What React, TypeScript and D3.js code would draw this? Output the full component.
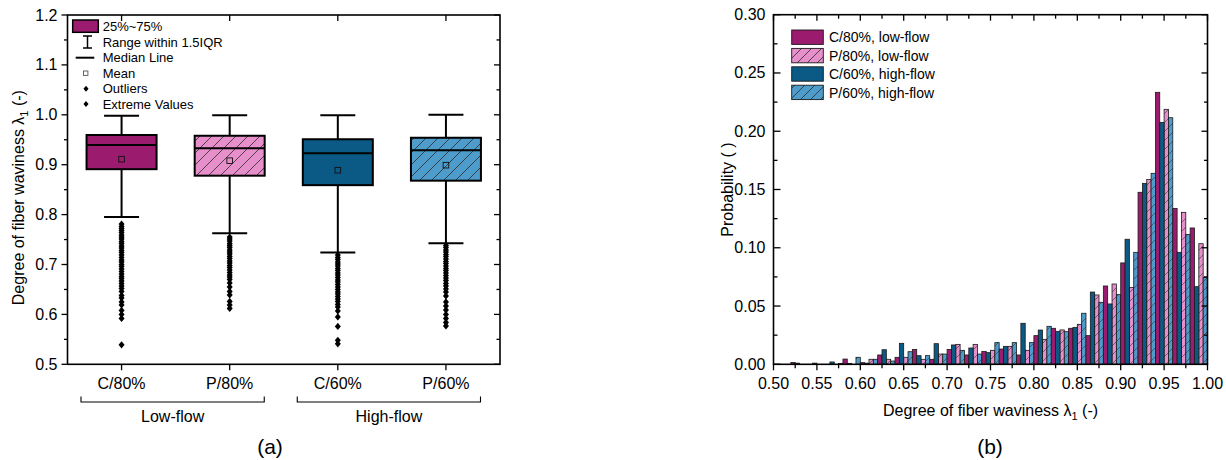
import React from "react";
import * as d3 from "d3";

// ---------- Panel (a): box plot data ----------
const groups = ["C/80%", "P/80%", "C/60%", "P/60%"];
const boxQ1 = [0.891, 0.878, 0.859, 0.868];
const boxMedian = [0.9395, 0.933, 0.923, 0.929];
const boxQ3 = [0.9595, 0.958, 0.951, 0.954];
const whiskerLow = [0.795, 0.7625, 0.724, 0.7425];
const whiskerHigh = [0.998, 0.999, 0.999, 1.0];
const boxMean = [0.911, 0.908, 0.889, 0.899];

const outliersC80 = [
  0.781, 0.776, 0.772, 0.768, 0.764, 0.759, 0.755, 0.751, 0.746, 0.742, 0.737, 0.733,
  0.728, 0.724, 0.719, 0.714, 0.709, 0.705, 0.7, 0.696, 0.691, 0.686, 0.681, 0.676,
  0.672, 0.667, 0.662, 0.657, 0.652, 0.646, 0.638, 0.633, 0.625, 0.619, 0.608, 0.6,
  0.592, 0.539,
];
const outliersP80 = [
  0.755, 0.751, 0.747, 0.742, 0.738, 0.734, 0.729, 0.725, 0.721, 0.716, 0.712, 0.707,
  0.703, 0.698, 0.694, 0.689, 0.684, 0.679, 0.675, 0.67, 0.663, 0.655, 0.646, 0.639,
  0.626, 0.619, 0.612,
];
const outliersC60 = [
  0.719, 0.714, 0.71, 0.705, 0.701, 0.697, 0.692, 0.688, 0.683, 0.679, 0.674, 0.669,
  0.665, 0.66, 0.655, 0.65, 0.645, 0.641, 0.636, 0.631, 0.626, 0.62, 0.615, 0.607,
  0.595, 0.576, 0.548, 0.541,
];
const outliersP60 = [
  0.738, 0.734, 0.729, 0.725, 0.72, 0.716, 0.711, 0.706, 0.702, 0.697, 0.692, 0.688,
  0.683, 0.678, 0.673, 0.668, 0.662, 0.657, 0.651, 0.645, 0.637, 0.625, 0.617, 0.609,
  0.6, 0.592, 0.584, 0.577,
];
const outlierSets = [outliersC80, outliersP80, outliersC60, outliersP60];

const groupColors = ["#9b1c6f", "#e68fca", "#0a5a85", "#4d9ccb"];
const groupHatched = [false, true, false, true];

const flowLabels = ["Low-flow", "High-flow"];
const boxLegendLabels = [
  "25%~75%",
  "Range within 1.5IQR",
  "Median Line",
  "Mean",
  "Outliers",
  "Extreme Values",
];

// ---------- Panel (b): histogram data (bin width 0.02) ----------
const binStarts = [
  0.5, 0.52, 0.54, 0.56, 0.58, 0.6, 0.62, 0.64, 0.66, 0.68, 0.7, 0.72, 0.74, 0.76,
  0.78, 0.8, 0.82, 0.84, 0.86, 0.88, 0.9, 0.92, 0.94, 0.96, 0.98,
];
const binWidth = 0.02;
const probC80 = [
  0, 0.0015, 0, 0, 0.0045, 0.0014, 0.008, 0.006, 0.0128, 0.0043, 0.0128, 0.008, 0.0111,
  0.0131, 0.008, 0.0246, 0.0309, 0.0309, 0.0246, 0.0672, 0.087, 0.1476, 0.2334, 0.1338,
  0.117,
];
const probC60 = [
  0, 0.001, 0.001, 0.002, 0.0008, 0.001, 0.0125, 0.018, 0.0074, 0.0177, 0.0166, 0.014,
  0.01, 0.0154, 0.0352, 0.0294, 0.0283, 0.0317, 0.062, 0.0518, 0.1073, 0.1553, 0.2076,
  0.0961, 0.0666,
];
const probP80 = [
  0, 0, 0, 0, 0, 0.0043, 0.0043, 0.006, 0.0043, 0.0088, 0.0171, 0.0171, 0.012, 0.0154,
  0.012, 0.0214, 0.0295, 0.0343, 0.0595, 0.0689, 0.066, 0.1587, 0.2188, 0.1304, 0.1035,
];
const probP60 = [
  0, 0, 0, 0.0008, 0.006, 0.0043, 0.0028, 0.0108, 0.0074, 0.0088, 0.012, 0.0088, 0.0186,
  0.0186, 0.0186, 0.0326, 0.028, 0.0438, 0.0532, 0.0598, 0.0961, 0.1639, 0.2116, 0.1115,
  0.0746,
];

const histSeries = [
  { name: "C/80%, low-flow", values: probC80, color: "#9b1c6f", hatch: false, slot: 0 },
  { name: "P/80%, low-flow", values: probP80, color: "#e68fca", hatch: true, slot: 2 },
  { name: "C/60%, high-flow", values: probC60, color: "#0a5a85", hatch: false, slot: 1 },
  { name: "P/60%, high-flow", values: probP60, color: "#4d9ccb", hatch: true, slot: 3 },
];

const FONT = "Arial, 'Liberation Sans', sans-serif";

// ---------- Layout ----------
const A = { left: 67.5, right: 500, top: 15, bottom: 364.3 };
const B = { left: 773.5, right: 1207.5, top: 14.7, bottom: 364.3 };

const xA = d3.scaleBand<string>().domain(groups).range([A.left, A.right]).padding(0);
const yA = d3.scaleLinear().domain([0.5, 1.2]).range([A.bottom, A.top]);
const xB = d3.scaleLinear().domain([0.5, 1.0]).range([B.left, B.right]);
const yB = d3.scaleLinear().domain([0, 0.3]).range([B.bottom, B.top]);

const diamond = "M0,-3.6 L3,0 L0,3.6 L-3,0 Z";

function BoxPanel() {
  const boxW = 70;
  const capW = 35;
  const yTicks = yA.ticks(14);
  return (
    <g>
      {/* y ticks: outward on the left, mirrored inward on the right */}
      {yTicks.map((t) => {
        const major = Math.round(t * 100) % 10 === 0;
        return (
          <g key={"ya" + t}>
            <line
              x1={A.left}
              x2={A.left - (major ? 6 : 3.5)}
              y1={yA(t)}
              y2={yA(t)}
              stroke="#000"
              strokeWidth={1.3}
            />
            <line
              x1={A.right}
              x2={A.right - (major ? 6 : 3.5)}
              y1={yA(t)}
              y2={yA(t)}
              stroke="#000"
              strokeWidth={1.3}
            />
            {major && (
              <text x={A.left - 10} y={yA(t) + 5.5} textAnchor="end" fontSize={16}>
                {t.toFixed(1)}
              </text>
            )}
          </g>
        );
      })}
      {/* category ticks top and bottom */}
      {groups.map((g) => {
        const cx = xA(g)! + xA.bandwidth() / 2;
        return (
          <g key={"xa" + g}>
            <line x1={cx} x2={cx} y1={A.bottom} y2={A.bottom + 6} stroke="#000" strokeWidth={1.3} />
            <line x1={cx} x2={cx} y1={A.top} y2={A.top + 6} stroke="#000" strokeWidth={1.3} />
            <text x={cx} y={389} textAnchor="middle" fontSize={16}>
              {g}
            </text>
          </g>
        );
      })}
      {/* boxes */}
      {groups.map((g, i) => {
        const cx = xA(g)! + xA.bandwidth() / 2;
        return (
          <g key={"box" + g}>
            <line x1={cx} x2={cx} y1={yA(boxQ3[i])} y2={yA(whiskerHigh[i])} stroke="#000" strokeWidth={2} />
            <line x1={cx} x2={cx} y1={yA(boxQ1[i])} y2={yA(whiskerLow[i])} stroke="#000" strokeWidth={2} />
            <line
              x1={cx - capW / 2}
              x2={cx + capW / 2}
              y1={yA(whiskerHigh[i])}
              y2={yA(whiskerHigh[i])}
              stroke="#000"
              strokeWidth={2}
            />
            <line
              x1={cx - capW / 2}
              x2={cx + capW / 2}
              y1={yA(whiskerLow[i])}
              y2={yA(whiskerLow[i])}
              stroke="#000"
              strokeWidth={2}
            />
            <rect
              x={cx - boxW / 2}
              y={yA(boxQ3[i])}
              width={boxW}
              height={yA(boxQ1[i]) - yA(boxQ3[i])}
              fill={groupColors[i]}
            />
            {groupHatched[i] && (
              <rect
                x={cx - boxW / 2}
                y={yA(boxQ3[i])}
                width={boxW}
                height={yA(boxQ1[i]) - yA(boxQ3[i])}
                fill="url(#hatchBox)"
              />
            )}
            <rect
              x={cx - boxW / 2}
              y={yA(boxQ3[i])}
              width={boxW}
              height={yA(boxQ1[i]) - yA(boxQ3[i])}
              fill="none"
              stroke="#000"
              strokeWidth={2}
            />
            <line
              x1={cx - boxW / 2}
              x2={cx + boxW / 2}
              y1={yA(boxMedian[i])}
              y2={yA(boxMedian[i])}
              stroke="#000"
              strokeWidth={2}
            />
            <rect
              x={cx - 2.8}
              y={yA(boxMean[i]) - 2.8}
              width={5.6}
              height={5.6}
              fill="none"
              stroke="#111"
              strokeWidth={0.9}
            />
            {outlierSets[i].map((v, k) => (
              <path key={k} d={diamond} transform={`translate(${cx},${yA(v)})`} fill="#000" />
            ))}
          </g>
        );
      })}
      {/* frame */}
      <rect
        x={A.left}
        y={A.top}
        width={A.right - A.left}
        height={A.bottom - A.top}
        fill="none"
        stroke="#000"
        strokeWidth={1.6}
      />
      {/* legend */}
      <g>
        <rect x={72.7} y={20} width={25.6} height={12.3} fill={groupColors[0]} stroke="#000" strokeWidth={1.5} />
        <line x1={87.5} x2={87.5} y1={36} y2={48} stroke="#000" strokeWidth={1.5} />
        <line x1={83} x2={92} y1={36} y2={36} stroke="#000" strokeWidth={1.5} />
        <line x1={83} x2={92} y1={48} y2={48} stroke="#000" strokeWidth={1.5} />
        <line x1={75.7} x2={94.3} y1={57.7} y2={57.7} stroke="#000" strokeWidth={2} />
        <rect x={83.5} y={71} width={4.4} height={4.4} fill="none" stroke="#555" strokeWidth={0.9} />
        <path d={diamond} transform="translate(86,88.7) scale(0.85)" fill="#000" />
        <path d={diamond} transform="translate(86,104) scale(0.85)" fill="#000" />
        {boxLegendLabels.map((s, k) => (
          <text key={s} x={102.7} y={[26, 42, 57.7, 73, 88.7, 104][k] + 4.6} fontSize={13}>
            {s}
          </text>
        ))}
      </g>
      {/* group brackets */}
      {[
        [0, 1],
        [2, 3],
      ].map(([a, b], k) => {
        const x1 = xA(groups[a])! + 13.5;
        const x2 = xA(groups[b])! + xA.bandwidth() - 19.5;
        return (
          <g key={"br" + k}>
            <path
              d={`M${x1},396.5 L${x1},402 L${x2},402 L${x2},396.5`}
              fill="none"
              stroke="#000"
              strokeWidth={1.1}
            />
            <text x={(x1 + x2) / 2} y={422} textAnchor="middle" fontSize={16}>
              {flowLabels[k]}
            </text>
          </g>
        );
      })}
      <text
        transform={`translate(24,${(A.top + A.bottom) / 2 + 8}) rotate(-90)`}
        textAnchor="middle"
        fontSize={16}
      >
        Degree of fiber waviness λ
        <tspan fontSize={11} dy={4}>
          1
        </tspan>
        <tspan dy={-4}> (-)</tspan>
      </text>
      <text x={270} y={454} textAnchor="middle" fontSize={21}>
        (a)
      </text>
    </g>
  );
}

function HistPanel() {
  const xTicks = d3.range(0, 21).map((k) => 0.5 + k * 0.025);
  const yTicks = d3.range(0, 13).map((k) => k * 0.025);
  return (
    <g>
      {/* bars */}
      {binStarts.map((b, i) => {
        const x0 = xB(b);
        const bw = (xB(b + binWidth) - x0) / 4;
        return (
          <g key={"bin" + i}>
            {histSeries.map((s) => {
              const v = s.values[i];
              if (!v) return null;
              const x = x0 + s.slot * bw;
              const y = yB(v);
              const h = yB(0) - y;
              return (
                <g key={s.name}>
                  <rect x={x} y={y} width={bw} height={h} fill={s.color} />
                  {s.hatch && <rect x={x} y={y} width={bw} height={h} fill="url(#hatchBar)" />}
                  <rect x={x} y={y} width={bw} height={h} fill="none" stroke="#1a1a1a" strokeWidth={0.8} />
                </g>
              );
            })}
          </g>
        );
      })}
      {/* x ticks */}
      {xTicks.map((t, k) => {
        const major = k % 2 === 0;
        return (
          <g key={"xb" + k}>
            <line x1={xB(t)} x2={xB(t)} y1={B.bottom} y2={B.bottom + (major ? 6 : 4)} stroke="#000" strokeWidth={1.3} />
            <line x1={xB(t)} x2={xB(t)} y1={B.top} y2={B.top + (major ? 6 : 4)} stroke="#000" strokeWidth={1.3} />
            {major && (
              <text x={xB(t)} y={389} textAnchor="middle" fontSize={16}>
                {t.toFixed(2)}
              </text>
            )}
          </g>
        );
      })}
      {/* y ticks */}
      {yTicks.map((t, k) => {
        const major = k % 2 === 0;
        return (
          <g key={"yb" + k}>
            <line x1={B.left} x2={B.left + (major ? 7 : 4)} y1={yB(t)} y2={yB(t)} stroke="#000" strokeWidth={1.3} />
            <line x1={B.right} x2={B.right - (major ? 6 : 3.5)} y1={yB(t)} y2={yB(t)} stroke="#000" strokeWidth={1.3} />
            {major && (
              <text x={B.left - 8} y={yB(t) + 5.5} textAnchor="end" fontSize={16}>
                {t.toFixed(2)}
              </text>
            )}
          </g>
        );
      })}
      <rect
        x={B.left}
        y={B.top}
        width={B.right - B.left}
        height={B.bottom - B.top}
        fill="none"
        stroke="#000"
        strokeWidth={1.6}
      />
      {/* legend */}
      {histSeries.map((s, k) => {
        const top = 30 + k * 18.4;
        return (
          <g key={"lg" + s.name}>
            <rect x={791.7} y={top} width={31.6} height={14.4} fill={s.color} />
            {s.hatch && <rect x={791.7} y={top} width={31.6} height={14.4} fill="url(#hatchLegend)" />}
            <rect x={791.7} y={top} width={31.6} height={14.4} fill="none" stroke="#1a1a1a" strokeWidth={0.9} />
            <text x={829} y={top + 12.3} fontSize={14}>
              {s.name}
            </text>
          </g>
        );
      })}
      <text
        transform={`translate(733,${(B.top + B.bottom) / 2}) rotate(-90)`}
        textAnchor="middle"
        fontSize={16}
      >
        Probability ( )
      </text>
      <text x={(B.left + B.right) / 2} y={416} textAnchor="middle" fontSize={16}>
        Degree of fiber waviness λ
        <tspan fontSize={11} dy={4}>
          1
        </tspan>
        <tspan dy={-4}> (-)</tspan>
      </text>
      <text x={990} y={454} textAnchor="middle" fontSize={21}>
        (b)
      </text>
    </g>
  );
}

function HatchPattern({ id, s, w, c }: { id: string; s: number; w: number; c: string }) {
  return (
    <pattern id={id} patternUnits="userSpaceOnUse" width={s} height={s}>
      <path
        d={`M0,${s} L${s},0 M${-s / 4},${s / 4} L${s / 4},${-s / 4} M${s - s / 4},${s + s / 4} L${s + s / 4},${s - s / 4}`}
        stroke={c}
        strokeWidth={w}
      />
    </pattern>
  );
}

export default function App() {
  return (
    <svg
      width={1226}
      height={460}
      viewBox="0 0 1226 460"
      style={{ position: "absolute", left: 0, top: 0, background: "#fff" }}
      fontFamily={FONT}
    >
      <defs>
        <HatchPattern id="hatchBox" s={12} w={0.8} c="#2a2a2a" />
        <HatchPattern id="hatchBar" s={9} w={0.6} c="#333" />
        <HatchPattern id="hatchLegend" s={10} w={0.8} c="#2a2a2a" />
      </defs>
      <rect width={1226} height={460} fill="#fff" />
      <BoxPanel />
      <HistPanel />
    </svg>
  );
}
